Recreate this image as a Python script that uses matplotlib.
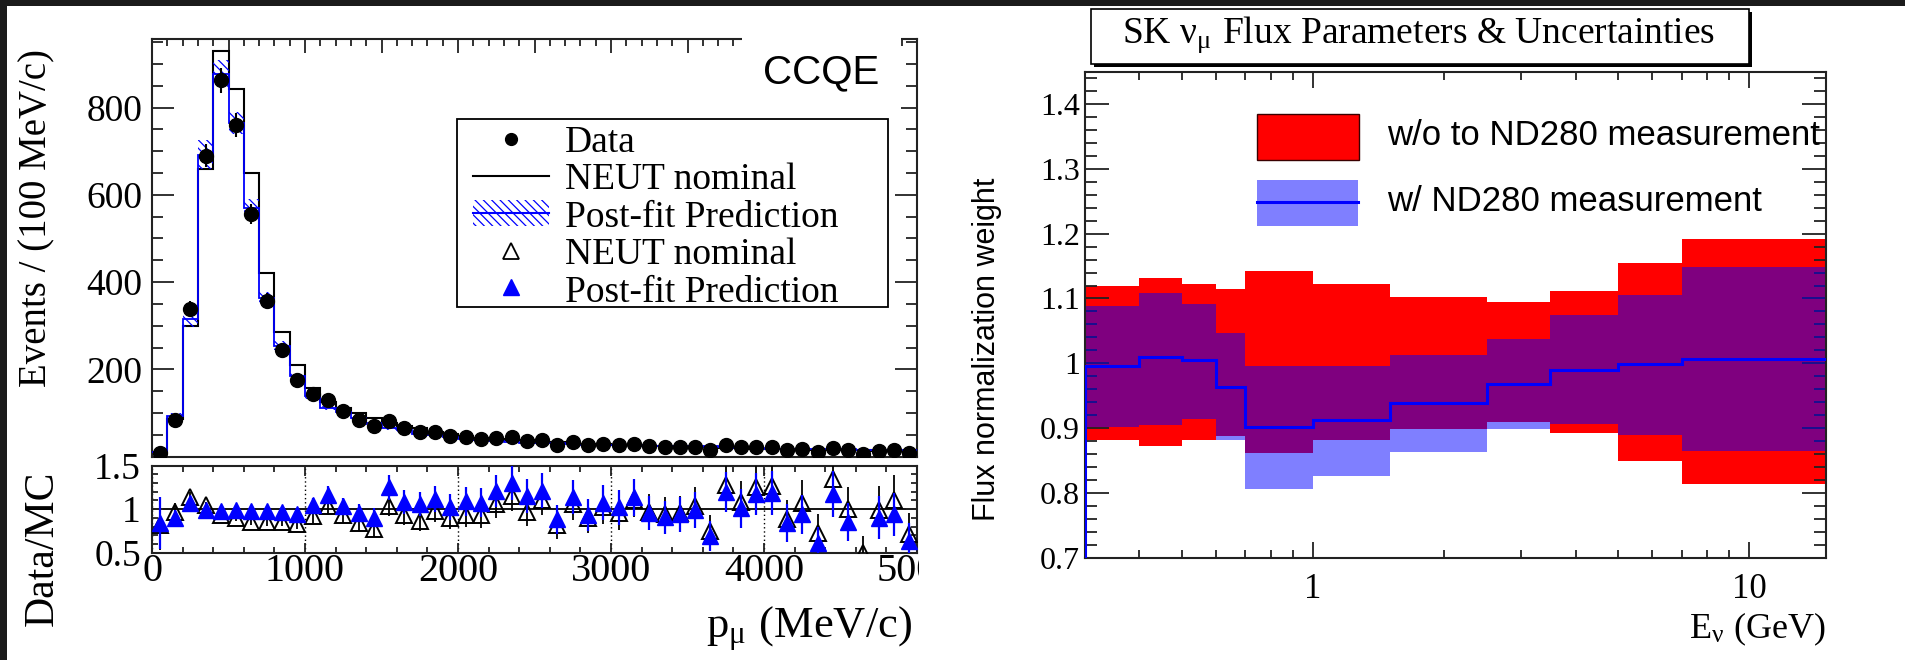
import numpy as np
import matplotlib
matplotlib.use("Agg")
import matplotlib.pyplot as plt
from matplotlib.patches import Rectangle
from matplotlib.lines import Line2D
from matplotlib.ticker import (MultipleLocator, FixedLocator, FuncFormatter,
                               NullFormatter, LogLocator)
from matplotlib.transforms import Bbox, TransformedBbox

W, H, DPI = 1905, 660, 100
SERIF = ["Liberation Serif", "DejaVu Serif"]
SANS = ["Liberation Sans", "DejaVu Sans"]
plt.rcParams["font.family"] = SERIF
plt.rcParams["mathtext.fontset"] = "stix"
plt.rcParams["hatch.linewidth"] = 0.9

# ---------------- CCQE sample, muon momentum (100 MeV/c bins) ----------------
pmu_edges = np.arange(0, 5001, 100)
data_counts = [8, 84, 339, 689, 862, 760, 556, 357, 245, 175,
               144, 130, 105, 84, 69, 81, 65, 56, 56, 47,
               44, 40, 43, 45, 36, 38, 27, 33, 26, 29,
               26, 29, 24, 23, 22, 23, 16, 26, 21, 23,
               22, 15, 17, 11, 20, 15, 7, 13, 14, 9]
neut_nominal = [9.8, 87.0, 298.4, 660.0, 929.0, 843.0, 650.0, 420.0, 286.0, 210.0,
                157.0, 125.4, 112.3, 100.1, 89.5, 77.9, 69.5, 64.6, 57.0, 52.3,
                47.3, 42.8, 40.6, 39.1, 37.1, 34.2, 33.1, 31.0, 29.0, 28.4,
                27.3, 26.1, 24.7, 24.4, 23.1, 22.1, 21.4, 20.3, 19.3, 18.4,
                17.4, 17.0, 15.8, 15.1, 14.8, 15.0, 14.0, 13.1, 12.7, 12.5]
postfit_pred = [9.5, 93.8, 316.0, 692.0, 877.0, 764.0, 570.0, 364.0, 254.0, 185.0,
                138.0, 111.4, 101.6, 88.1, 76.5, 64.8, 60.1, 52.8, 50.0, 46.0,
                40.4, 37.2, 35.7, 34.6, 31.3, 31.3, 30.6, 29.0, 27.7, 27.0,
                25.5, 25.5, 25.0, 25.4, 23.3, 23.1, 23.2, 21.7, 20.8, 19.6,
                18.5, 17.9, 18.1, 18.0, 17.0, 17.6, 15.6, 14.4, 14.9, 14.3]
postfit_rel_err = [0.060, 0.055, 0.057, 0.047, 0.036, 0.033, 0.037, 0.038, 0.040, 0.040,
                   0.045, 0.045, 0.045, 0.045, 0.045, 0.050, 0.050, 0.050, 0.050, 0.050,
                   0.050, 0.050, 0.050, 0.050, 0.050, 0.050, 0.050, 0.050, 0.050, 0.050,
                   0.055, 0.055, 0.055, 0.055, 0.055, 0.055, 0.055, 0.055, 0.055, 0.055,
                   0.060, 0.060, 0.060, 0.060, 0.060, 0.060, 0.060, 0.060, 0.060, 0.060]

# ---------------- SK nu_mu flux normalisation parameters ----------------
flux_edges = [0.3, 0.4, 0.5, 0.6, 0.7, 1.0, 1.5, 2.5, 3.5, 5.0, 7.0, 30.0]
prefit_lo = [0.882, 0.873, 0.882, 0.888, 0.861, 0.882, 0.899, 0.909, 0.892, 0.850, 0.813]
prefit_hi = [1.120, 1.131, 1.123, 1.114, 1.142, 1.123, 1.103, 1.094, 1.111, 1.155, 1.192]
postfit_lo = [0.902, 0.905, 0.914, 0.882, 0.806, 0.826, 0.863, 0.899, 0.907, 0.890, 0.864]
postfit_hi = [1.088, 1.108, 1.092, 1.046, 0.996, 0.996, 1.013, 1.038, 1.074, 1.106, 1.149]
postfit_central = [0.996, 1.010, 1.005, 0.963, 0.901, 0.912, 0.938, 0.968, 0.990, 0.999, 1.006]

fig = plt.figure(figsize=(W / DPI, H / DPI), dpi=DPI)
fig.patch.set_facecolor("white")


def frect(x0, y0, x1, y1):
    """Axes rectangle from pixel corners (origin at top-left)."""
    return [x0 / W, 1 - y1 / H, (x1 - x0) / W, (y1 - y0) / H]


def fx(x):
    return x / W


def fy(y):
    return 1 - y / H


SPINE = "#222222"
ax_main = fig.add_axes(frect(152, 39, 917, 456.6))
ax_ratio = fig.add_axes(frect(152, 465.7, 917, 552.7))
ax_flux = fig.add_axes(frect(1085, 71.7, 1826, 557.7))
for ax in (ax_main, ax_ratio, ax_flux):
    for s in ax.spines.values():
        s.set_linewidth(1.5)
        s.set_color(SPINE)

gfmt = FuncFormatter(lambda v, p: f"{round(v, 3):g}")

# ---------------- main distribution ----------------
edges = np.asarray(pmu_edges, float)
centers = 0.5 * (edges[:-1] + edges[1:])
data = np.asarray(data_counts, float)
nom = np.asarray(neut_nominal, float)
post = np.asarray(postfit_pred, float)
post_err = post * np.asarray(postfit_rel_err, float)

ax_main.stairs(nom, edges, baseline=0, color="black", lw=1.5, zorder=2)
ax_main.stairs(post + post_err, edges, baseline=post - post_err, fill=True,
               facecolor="none", edgecolor="blue", hatch="\\\\\\\\", lw=0, zorder=3)
ax_main.stairs(post, edges, baseline=None, color="blue", lw=1.3, zorder=3)
ax_main.errorbar(centers, data, yerr=np.sqrt(data), fmt="o", color="black",
                 ms=10, elinewidth=1.5, capsize=0, zorder=4)
ax_main.set_xlim(0, 5000)
ax_main.set_ylim(0, 957)
ax_main.xaxis.set_major_locator(MultipleLocator(500))
ax_main.xaxis.set_minor_locator(MultipleLocator(100))
ax_main.tick_params(axis="x", which="both", direction="in", top=True, bottom=False,
                    labelbottom=False, color=SPINE, width=1.3)
ax_main.tick_params(axis="x", which="major", length=10)
ax_main.tick_params(axis="x", which="minor", length=5)
ax_main.yaxis.set_major_locator(MultipleLocator(200))
ax_main.yaxis.set_minor_locator(MultipleLocator(50))
ax_main.yaxis.set_major_formatter(FuncFormatter(lambda v, p: "" if v == 0 else f"{v:g}"))
ax_main.tick_params(axis="y", which="both", direction="in", left=True, right=True,
                    labelsize=27, pad=7, color=SPINE, width=1.3)
ax_main.tick_params(axis="y", which="major", length=16)
ax_main.tick_params(axis="y", which="minor", length=8)

# ---------------- data / MC ratio ----------------
r_nom = data / nom
r_nom_err = np.sqrt(data) / nom
r_post = data / post
r_post_err = np.sqrt(data) / post
in_nom = (r_nom >= 0.5) & (r_nom <= 1.5)
in_post = (r_post >= 0.5) & (r_post <= 1.5)

ax_ratio.axhline(1.0, color="black", lw=1.3, zorder=1)
ax_ratio.errorbar(centers[in_nom], r_nom[in_nom], yerr=r_nom_err[in_nom], fmt="^",
                  ms=12, mfc="none", mec="black", mew=1.4, ecolor="black",
                  elinewidth=1.3, capsize=0, zorder=3)
ax_ratio.errorbar(centers[in_post], r_post[in_post], yerr=r_post_err[in_post], fmt="^",
                  ms=11, color="blue", elinewidth=1.6, capsize=0, zorder=4)
ax_ratio.set_xlim(0, 5000)
ax_ratio.set_ylim(0.5, 1.5)
ax_ratio.xaxis.set_major_locator(MultipleLocator(1000))
ax_ratio.xaxis.set_minor_locator(MultipleLocator(200))
ax_ratio.xaxis.set_major_formatter(gfmt)
ax_ratio.grid(axis="x", which="major", ls=(0, (1, 2)), color="black", lw=1.0)
ax_ratio.tick_params(axis="x", which="both", direction="in", top=True, bottom=True,
                     labelsize=29, pad=0, color=SPINE, width=1.3)
ax_ratio.tick_params(axis="x", which="major", length=7)
ax_ratio.tick_params(axis="x", which="minor", length=4)
ax_ratio.yaxis.set_major_locator(MultipleLocator(0.5))
ax_ratio.yaxis.set_minor_locator(MultipleLocator(0.1))
ax_ratio.yaxis.set_major_formatter(gfmt)
ax_ratio.tick_params(axis="y", which="both", direction="in", left=True, right=True,
                     labelsize=27, pad=8, color=SPINE, width=1.3)
ax_ratio.tick_params(axis="y", which="major", length=8)
ax_ratio.tick_params(axis="y", which="minor", length=4)

# the left canvas ends just right of the ratio frame
left_canvas = TransformedBbox(Bbox([[0, 0], [919 / W, 1]]), fig.transFigure)
for tk in ax_ratio.xaxis.get_major_ticks():
    tk.label1.set_clip_box(left_canvas)
    tk.label1.set_clip_on(True)

# ---------------- flux parameters ----------------
fe = np.asarray(flux_edges, float)
ax_flux.set_xscale("log")
ax_flux.stairs(prefit_hi, fe, baseline=prefit_lo, fill=True, color="red", lw=0, zorder=1)
ax_flux.stairs(postfit_hi, fe, baseline=postfit_lo, fill=True,
               facecolor=(0, 0, 1, 0.5), lw=0, zorder=2)
ax_flux.stairs(postfit_central, fe, baseline=0, color="blue", lw=2.2, zorder=3)
ax_flux.set_xlim(0.3, 15)
ax_flux.set_ylim(0.7, 1.45)
ax_flux.xaxis.set_major_locator(FixedLocator([1, 10]))
ax_flux.xaxis.set_major_formatter(gfmt)
ax_flux.xaxis.set_minor_locator(LogLocator(base=10, subs=np.arange(2, 10), numticks=20))
ax_flux.xaxis.set_minor_formatter(NullFormatter())
ax_flux.tick_params(axis="x", which="both", direction="in", top=True, bottom=True,
                    labelsize=25, pad=11, color=SPINE, width=1.3)
ax_flux.tick_params(axis="x", which="major", length=11.5)
ax_flux.tick_params(axis="x", which="minor", length=5.5)
ax_flux.yaxis.set_major_locator(MultipleLocator(0.1))
ax_flux.yaxis.set_minor_locator(MultipleLocator(0.02))
ax_flux.yaxis.set_major_formatter(gfmt)
ax_flux.tick_params(axis="y", which="both", direction="in", left=True, right=True,
                    labelsize=23, pad=3.5, color=SPINE, width=1.3)
ax_flux.tick_params(axis="y", which="major", length=17)
ax_flux.tick_params(axis="y", which="minor", length=8.5)

# ---------------- axis titles and labels ----------------
fig.text(fx(37), fy(218), "Events / (100 MeV/c)", rotation=90, ha="center",
         va="center", fontsize=28)
fig.text(fx(43), fy(548), "Data/MC", rotation=90, ha="center", va="center", fontsize=30)
fig.text(fx(912), fy(638), r"p$_{\mathregular{μ}}$ (MeV/c)", ha="right", va="baseline",
         fontsize=32)
fig.text(fx(821.5), fy(83), "CCQE", family=SANS, fontsize=29, ha="center",
         va="baseline", zorder=10,
         bbox=dict(boxstyle="square,pad=0.52", fc="white", ec="none"))

fig.text(fx(987), fy(349), "Flux normalization weight", rotation=90, ha="center",
         va="center", family=SANS, fontsize=22)
fig.text(fx(1826), fy(638), r"E$_{\mathregular{ν}}$ (GeV)", ha="right", va="baseline",
         fontsize=26)

# title pave with shadow
fig.add_artist(Rectangle((fx(1093.7), fy(67)), 658.6 / W, 54.7 / H,
                         transform=fig.transFigure, fc="black", ec="none", zorder=4))
fig.add_artist(Rectangle((fx(1090.7), fy(64)), 658.6 / W, 54.7 / H,
                         transform=fig.transFigure, fc="white", ec="black", lw=1.2,
                         zorder=5))
fig.text(fx(1419), fy(43.3), r"SK ν$_{\mathregular{μ}}$ Flux Parameters & Uncertainties",
         ha="center", va="baseline", fontsize=27, zorder=6)

# ---------------- legend of the momentum panel ----------------
fig.add_artist(Rectangle((fx(456.7), fy(307)), 431.3 / W, 188 / H,
                         transform=fig.transFigure, fc="white", ec="black", lw=1.3,
                         zorder=5))
leg_rows = [151.7, 189.2, 226.7, 264.2, 301.7]
leg_text = ["Data", "NEUT nominal", "Post-fit Prediction", "NEUT nominal",
            "Post-fit Prediction"]
for yb, t in zip(leg_rows, leg_text):
    fig.text(fx(565), fy(yb), t, ha="left", va="baseline", fontsize=27, zorder=6)
fig.add_artist(Line2D([fx(511)], [fy(139)], marker="o", ms=8.5, color="black",
                      ls="none", transform=fig.transFigure, zorder=6))
fig.add_artist(Line2D([fx(473), fx(549)], [fy(176), fy(176)], color="black", lw=1.5,
                      transform=fig.transFigure, zorder=6))
fig.add_artist(Rectangle((fx(473), fy(226)), 76 / W, 26 / H, transform=fig.transFigure,
                         fc="none", ec="blue", hatch="\\\\\\\\", lw=0, zorder=6))
fig.add_artist(Line2D([fx(473), fx(549)], [fy(212.7), fy(212.7)], color="blue", lw=1.5,
                      transform=fig.transFigure, zorder=6))
fig.add_artist(Line2D([fx(511)], [fy(250.5)], marker="^", ms=12, mfc="none", mec="black",
                      mew=1.3, ls="none", transform=fig.transFigure, zorder=6))
fig.add_artist(Line2D([fx(511)], [fy(287.5)], marker="^", ms=11, color="blue",
                      ls="none", transform=fig.transFigure, zorder=6))

# ---------------- legend of the flux panel ----------------
fig.add_artist(Rectangle((fx(1257.3), fy(160)), 102 / W, 46 / H,
                         transform=fig.transFigure, fc="red", ec="#3a0000", lw=1.0,
                         zorder=6))
fig.add_artist(Rectangle((fx(1257.3), fy(225.7)), 101 / W, 45.7 / H,
                         transform=fig.transFigure, fc=(0, 0, 1, 0.5), ec="none",
                         zorder=6))
fig.add_artist(Line2D([fx(1257.3), fx(1358.3)], [fy(201.7), fy(201.7)], color="blue",
                      lw=2.2, transform=fig.transFigure, zorder=7))
fig.text(fx(1387), fy(145), "w/o to ND280 measurement", family=SANS, fontsize=25,
         ha="left", va="baseline", zorder=7)
fig.text(fx(1387), fy(210.7), "w/ ND280 measurement", family=SANS, fontsize=25,
         ha="left", va="baseline", zorder=7)

# dark frame along the top and left edges
fig.add_artist(Rectangle((0, fy(6)), 1, 6 / H, transform=fig.transFigure,
                         fc="#1b1b1b", ec="none", zorder=20))
fig.add_artist(Rectangle((0, 0), 7 / W, 1, transform=fig.transFigure,
                         fc="#1b1b1b", ec="none", zorder=20))

fig.savefig("out.png", dpi=DPI)
